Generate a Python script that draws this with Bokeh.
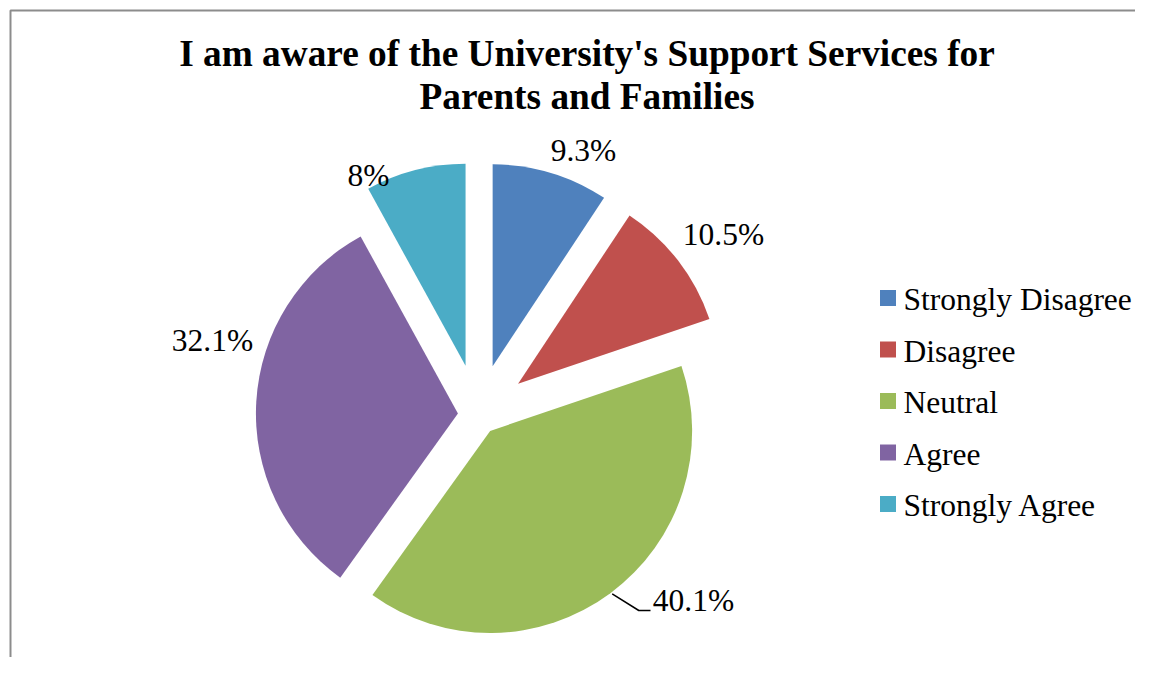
import numpy as np
from bokeh.plotting import figure
from bokeh.models import Range1d, ColumnDataSource
from bokeh.embed import file_html
from bokeh.resources import INLINE
from bokeh.core.properties import value

# ---- data ----
categories = ["Strongly Disagree", "Disagree", "Neutral", "Agree", "Strongly Agree"]
percents = [9.3, 10.5, 40.1, 32.1, 8.0]
labels = ["9.3%", "10.5%", "40.1%", "32.1%", "8%"]
colors = ["#4F81BD", "#C0504D", "#9BBB59", "#8064A2", "#4BACC6"]
explode = [0.25, 0.25, 0.10, 0.10, 0.25]
title_lines = ["I am aware of the University's Support Services for", "Parents and Families"]

# ---- layout (screenshot pixel coordinates, y flipped to data-up) ----
W, H = 1135, 657
PH = 673
TXT_DY = -10.5  # correction for text baseline rendering
def Y(py):
    return PH - py

FONT = value("Liberation Serif")

p = figure(width=W, height=H, output_backend="svg", toolbar_location=None,
           x_range=Range1d(0, W), y_range=Range1d(PH - H, PH),
           min_border=0, outline_line_color=None)
p.axis.visible = False
p.grid.visible = False
p.background_fill_color = "white"
p.border_fill_color = "white"

# chart frame (left and top edges visible)
p.line(x=[10, 10, 1200], y=[Y(700), Y(10), Y(10)], line_color="#8c8c8c", line_width=2)

# ---- pie ----
cx, cy, R = 477.6, Y(414.2), 202.0
frac = np.array(percents) / np.sum(percents)
cum = np.concatenate([[0.0], np.cumsum(frac)]) * 2 * np.pi
t1, t2 = cum[:-1], cum[1:]
mid = (t1 + t2) / 2
ex = np.array(explode) * R
src = ColumnDataSource(dict(
    x=cx + ex * np.sin(mid),
    y=cy + ex * np.cos(mid),
    start=np.pi / 2 - t2,
    end=np.pi / 2 - t1,
    color=colors,
    cat=categories,
))
p.wedge(x="x", y="y", radius=R, start_angle="start", end_angle="end",
        direction="anticlock", fill_color="color", line_color=None, source=src)

# ---- data labels ----
label_x = [583, 723, 693, 212, 368]
label_base = [160.7, 244.3, 610.7, 350.0, 185.0]
p.text(x=label_x, y=[Y(v + TXT_DY) for v in label_base], text=labels, text_font=FONT,
       text_font_size="31.5px", text_align="center", text_baseline="alphabetic",
       text_color="black")

# leader line for the 40.1% label
p.line(x=[611.7, 638.3, 650.0], y=[Y(593.3), Y(610.0), Y(610.0)],
       line_color="black", line_width=1.5)

# ---- legend ----
leg_y0, leg_dy = 297.5, 51.5
leg_sq_y = [Y(leg_y0 + i * leg_dy) for i in range(len(categories))]
leg_tx_y = [Y(leg_y0 + 12 + TXT_DY + i * leg_dy) for i in range(len(categories))]
p.scatter(x=[887.5] * len(categories), y=leg_sq_y, marker="square", size=16,
          fill_color=colors, line_color=None)
p.text(x=[903] * len(categories), y=leg_tx_y, text=categories, text_font=FONT,
       text_font_size="31.5px", text_align="left", text_baseline="alphabetic",
       text_color="black")

# ---- title ----
p.text(x=[586.5, 586.5], y=[Y(63.3 + TXT_DY), Y(106.7 + TXT_DY)], text=title_lines,
       text_font=FONT, text_font_size="37.3px", text_font_style="bold",
       text_align="center", text_baseline="alphabetic", text_color="black")

open("out.html", "w").write(file_html(p, INLINE))
